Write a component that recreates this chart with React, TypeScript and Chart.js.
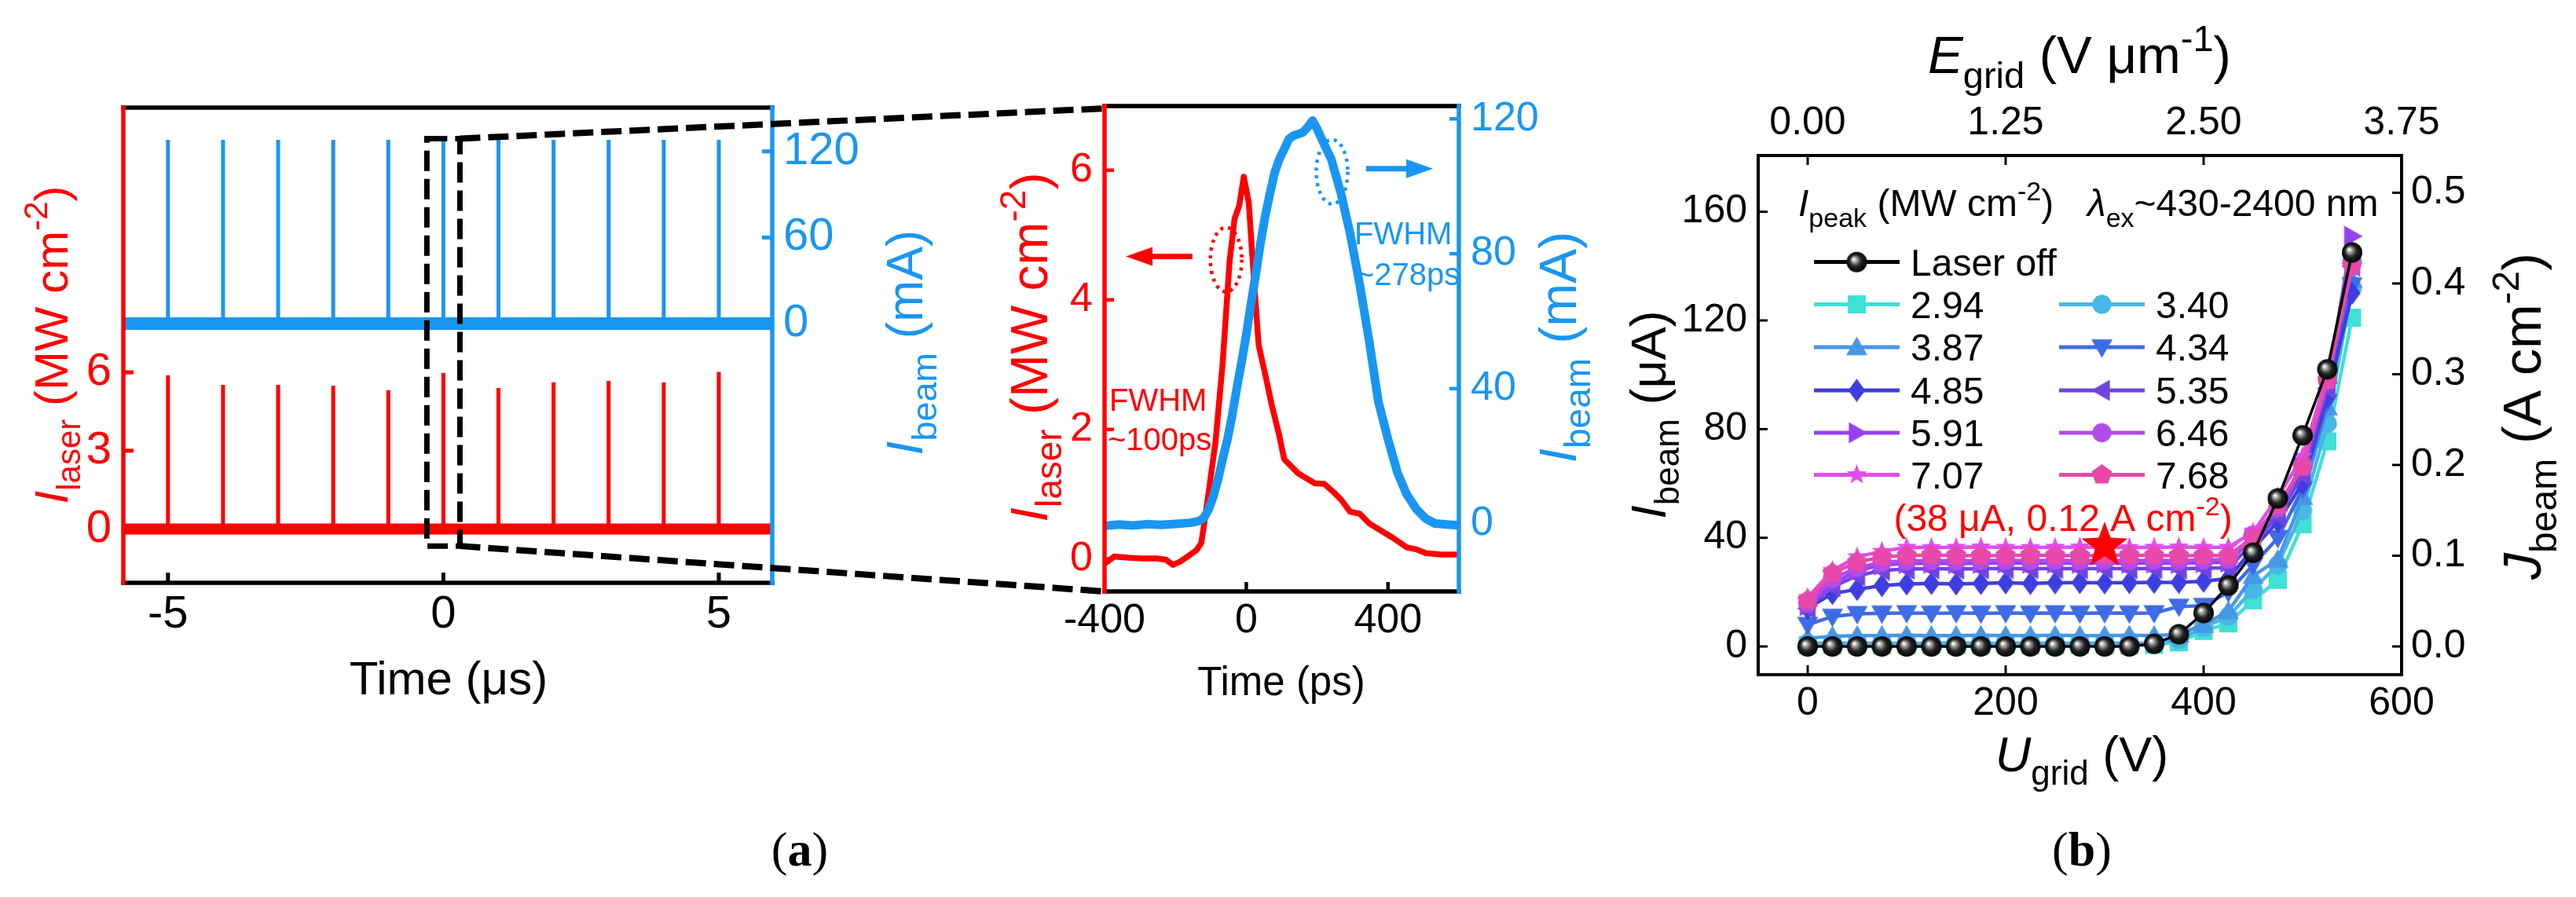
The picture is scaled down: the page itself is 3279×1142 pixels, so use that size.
import React, { useEffect, useRef } from 'react';
import { Chart, registerables } from 'chart.js';

Chart.register(...registerables);

const FONT = '"Liberation Sans", Arial, Helvetica, sans-serif';
const SERIF = '"Liberation Serif", "Times New Roman", serif';
const RED = '#FF0000';
const BLUE = '#1996F2';
const PAGE_W = 3279;
const PAGE_H = 1142;

// ---------------- Panel (a) left: pulse train ----------------
const pulseTimesUs = [-5, -4, -3, -2, -1, 0, 1, 2, 3, 4, 5];
const laserPeaksMW = [5.89, 5.52, 5.52, 5.49, 5.32, 5.98, 5.4, 5.62, 5.67, 5.62, 6.02];
const beamPeaksMA = [128, 128, 128, 128, 128, 128, 128, 128, 128, 128, 128];
const trainWindowUs = [-5.81, 5.97];
const trainLaserRange = [-2.06, 16.14];
const trainBeamRange = [-180.6, 150.5];
const trainTicksUs = [-5, 0, 5];
const trainLaserTicks = [0, 3, 6];
const trainBeamTicks = [0, 60, 120];
const zoomBoxUs = [-0.3, 0.3];
const zoomBoxMW = [-0.65, 14.95];

// ---------------- Panel (a) right: single pulse ----------------
const laserTimePs = [-400, -387, -373, -333, -293, -253, -227, -207, -187, -160, -140, -127, -120, -107, -87, -67, -47, -33, -20, -7, 7, 16, 27, 35, 53, 73, 93, 107, 147, 193, 220, 247, 267, 293, 320, 347, 380, 413, 453, 480, 507, 550, 600];
const laserMW = [-0.07, -0.02, 0.04, 0.02, 0.01, 0.01, -0.01, -0.09, -0.04, 0.06, 0.14, 0.25, 0.5, 1.0, 1.8, 3.0, 4.6, 5.25, 5.45, 5.9, 5.5, 4.77, 3.9, 3.3, 2.86, 2.35, 1.91, 1.54, 1.32, 1.17, 1.16, 1.03, 0.92, 0.73, 0.7, 0.55, 0.44, 0.33, 0.18, 0.15, 0.09, 0.07, 0.07];
const beamTimePs = [-400, -360, -320, -280, -240, -200, -160, -147, -133, -120, -107, -93, -80, -67, -53, -40, -27, -13, 0, 13, 27, 40, 53, 67, 80, 93, 107, 120, 133, 147, 160, 173, 187, 200, 213, 240, 267, 293, 320, 347, 373, 400, 427, 453, 480, 507, 533, 567, 600];
const beamMA = [-0.7, -0.3, -0.6, -0.2, -0.4, -0.1, 0.2, 0.4, 0.8, 1.6, 4, 8, 13, 19, 25, 32, 40, 48, 56, 65, 74, 83, 91, 98, 104, 108, 111, 114, 115, 115.5, 116, 117.5, 119.5, 117, 114, 108, 98, 86, 71, 54, 36, 25, 15, 8.6, 4.3, 1.4, 0, -0.3, -0.5];
const pulseTimeRange = [-400, 600];
const pulseLaserRange = [-0.5, 6.99];
const pulseBeamRange = [-20.15, 123.8];
const pulseTicksPs = [-400, 0, 400];
const pulseLaserTicks = [0, 2, 4, 6];
const pulseBeamTicks = [0, 40, 80, 120];

// ---------------- Panel (b): I-U curves ----------------
const uGridV = [0, 25, 50, 75, 100, 125, 150, 175, 200, 225, 250, 275, 300, 325, 350, 375, 400, 425, 450, 475, 500, 525, 550];
const iLaserOff = [0, 0, 0, 0, 0, 0, 0, 0, 0, 0, 0, 0, 0, 0, 1, 4.5, 12.3, 22.4, 34.5, 54.5, 77.7, 102, 145];
const i294 = [0.5, 0.5, 0.6, 0.5, 0.5, 0.6, 0.5, 0.5, 0.6, 0.5, 0.5, 0.6, 0.5, 0.5, 0.6, 1.5, 5.7, 8.5, 17, 24.5, 45, 75.5, 121];
const i340 = [1.2, 1.3, 1.2, 1.3, 1.2, 1.2, 1.3, 1.2, 1.2, 1.3, 1.2, 1.2, 1.3, 1.2, 1.3, 2.5, 7, 11, 21, 30, 50, 82, 132];
const i387 = [3, 3.8, 4, 4, 4.1, 4, 4, 4.1, 4, 4, 4.1, 4, 4, 4.1, 4, 4.5, 8, 13, 26, 32, 55, 88, 135];
const i434 = [8, 11, 12, 12.2, 12.3, 12.2, 12.3, 12.2, 12.3, 12.2, 12.3, 12.2, 12.3, 12.2, 12.3, 14.7, 15, 20, 30, 40, 58, 90, 133];
const i485 = [14, 19.5, 21, 22.4, 23, 23.2, 23, 23.2, 23.4, 23.2, 23.4, 23.5, 23.4, 23.5, 23.6, 23.6, 24, 25, 36, 46, 60, 92, 130];
const i535 = [14, 22, 26, 28, 28.5, 28.6, 28.5, 28.6, 28.7, 28.6, 28.7, 28.6, 28.7, 28.6, 28.7, 28.6, 28.8, 29, 38, 48, 63, 95, 140];
const i591 = [15, 23, 28, 30, 30.5, 30.6, 30.5, 30.6, 30.7, 30.6, 30.7, 30.6, 30.7, 30.6, 30.7, 30.6, 30.8, 31, 40, 50, 66, 97, 151];
const i646 = [16, 25, 29, 31, 31.5, 31.6, 31.5, 31.6, 31.7, 31.6, 31.7, 31.6, 31.7, 31.6, 31.7, 31.6, 31.8, 32, 41, 51, 67, 98, 142];
const i707 = [18, 28, 33, 35, 36.5, 36.4, 36.5, 36.6, 36.5, 36.4, 36.5, 36.6, 36.5, 36.4, 36.5, 36.6, 36.5, 36.5, 42, 55, 70, 100, 143];
const i768 = [17, 27, 31, 33, 33.5, 33.6, 33.5, 33.4, 33.5, 33.6, 33.5, 33.4, 33.5, 33.6, 33.5, 33.4, 33.5, 33.5, 40, 52, 66, 98, 140];
const seriesLabels = ['Laser off', '2.94', '3.40', '3.87', '4.34', '4.85', '5.35', '5.91', '6.46', '7.07', '7.68'];
const seriesValues = [iLaserOff, i294, i340, i387, i434, i485, i535, i591, i646, i707, i768];
const uGridRange = [-50, 600];
const iBeamRange = [-10.4, 180.7];
const uTicks = [0, 200, 400, 600];
const iTicks = [0, 40, 80, 120, 160];
const jTicks = [0, 0.1, 0.2, 0.3, 0.4, 0.5];
const eTicks = [0, 1.25, 2.5, 3.75];
const uPerE = 160; // V per (V/um)
const iPerJ = 334; // uA per (A/cm2)
const starPoint = [300, 37];
const starLabelAt = [258, 47.4];

// styles (kept apart from data)
const seriesColors = ['#000000', '#40E0D6', '#48B6E6', '#4896E8', '#3E6CE6', '#3E3EE0', '#7044E0', '#9442F0', '#B24CE6', '#E04EEE', '#E848AA'];
const seriesShapes = ['sphere', 'square', 'circle', 'triUp', 'triDown', 'diamond', 'triLeft', 'triRight', 'circle', 'star', 'pentagon'];

// canvas placements on the page
const POS_A = { left: 0, top: 0, w: 1250, h: 1000 };
const POS_B = { left: 1200, top: 0, w: 850, h: 1000 };
const POS_C = { left: 2050, top: 0, w: 1229, h: 1142 };

type Seg = { t: string; it?: boolean; sub?: boolean; sup?: boolean };

function drawRich(ctx: any, segs: Seg[], x: number, y: number, size: number, color: string, rot = 0, align = 'center') {
  ctx.save();
  ctx.translate(x, y);
  if (rot) ctx.rotate(rot);
  ctx.fillStyle = color;
  ctx.textBaseline = 'alphabetic';
  ctx.textAlign = 'left';
  const fontOf = (s: Seg) => `${s.it ? 'italic ' : ''}${s.sub || s.sup ? Math.round(size * 0.7) : size}px ${FONT}`;
  const widths = segs.map((s) => {
    ctx.font = fontOf(s);
    return ctx.measureText(s.t).width;
  });
  const total = widths.reduce((a, b) => a + b, 0);
  let cx = align === 'left' ? 0 : -total / 2;
  const base = size * 0.36;
  segs.forEach((s, i) => {
    ctx.font = fontOf(s);
    const dy = s.sub ? size * 0.28 : s.sup ? -size * 0.42 : 0;
    ctx.fillText(s.t, cx, base + dy);
    cx += widths[i];
  });
  ctx.restore();
}

function makeMarker(shape: string, color: string, r: number) {
  const c = document.createElement('canvas');
  const s = Math.ceil(2 * r + 4);
  c.width = s;
  c.height = s;
  const g = c.getContext('2d') as CanvasRenderingContext2D;
  g.translate(s / 2, s / 2);
  if (shape === 'sphere') {
    const grad = g.createRadialGradient(-r * 0.3, -r * 0.3, r * 0.05, 0, 0, r);
    grad.addColorStop(0, '#ffffff');
    grad.addColorStop(0.22, '#a0a0a0');
    grad.addColorStop(0.55, '#262626');
    grad.addColorStop(1, '#000000');
    g.fillStyle = grad;
    g.beginPath();
    g.arc(0, 0, r, 0, Math.PI * 2);
    g.fill();
    return c;
  }
  const poly = (pts: number[][]) => {
    g.beginPath();
    pts.forEach((p, i) => (i ? g.lineTo(p[0], p[1]) : g.moveTo(p[0], p[1])));
    g.closePath();
  };
  g.fillStyle = color;
  if (shape === 'square') {
    g.beginPath();
    g.rect(-r * 0.85, -r * 0.85, r * 1.7, r * 1.7);
  } else if (shape === 'circle') {
    g.beginPath();
    g.arc(0, 0, r * 0.9, 0, Math.PI * 2);
  } else if (shape === 'triUp') poly([[0, -r], [r, r * 0.75], [-r, r * 0.75]]);
  else if (shape === 'triDown') poly([[0, r], [r, -r * 0.75], [-r, -r * 0.75]]);
  else if (shape === 'triLeft') poly([[-r, 0], [r * 0.75, -r], [r * 0.75, r]]);
  else if (shape === 'triRight') poly([[r, 0], [-r * 0.75, -r], [-r * 0.75, r]]);
  else if (shape === 'diamond') poly([[0, -r * 1.1], [r * 0.8, 0], [0, r * 1.1], [-r * 0.8, 0]]);
  else if (shape === 'star' || shape === 'bigstar') {
    const pts: number[][] = [];
    for (let k = 0; k < 10; k++) {
      const rr = k % 2 === 0 ? r : r * 0.42;
      const a = -Math.PI / 2 + (k * Math.PI) / 5;
      pts.push([rr * Math.cos(a), rr * Math.sin(a)]);
    }
    poly(pts);
  } else if (shape === 'pentagon') {
    const pts: number[][] = [];
    for (let k = 0; k < 5; k++) {
      const a = -Math.PI / 2 + (k * 2 * Math.PI) / 5;
      pts.push([r * Math.cos(a), r * Math.sin(a)]);
    }
    poly(pts);
  }
  g.fill();
  return c;
}

function axis(o: any) {
  return {
    type: 'linear',
    position: o.position,
    min: o.min,
    max: o.max,
    grid: { display: false, drawTicks: false },
    border: { display: false },
    ticks: {
      color: o.color,
      font: { family: FONT, size: o.size },
      padding: o.pad,
      autoSkip: false,
      maxRotation: 0,
      callback: (v: number) => o.fmt(v),
    },
    afterBuildTicks: (s: any) => {
      s.ticks = o.ticks.map((v: number) => ({ value: v }));
    },
    afterFit: (s: any) => {
      if (o.position === 'top' || o.position === 'bottom') s.height = o.fit;
      else s.width = o.fit;
    },
  };
}

function framePlugin(sides: any, lw: number, tickLen: number, tickW: number, tickAxes: any[]) {
  return {
    id: 'frameTicks',
    afterDatasetsDraw(chart: any) {
      const { ctx, chartArea: a } = chart;
      ctx.save();
      ctx.setLineDash([]);
      ctx.lineCap = 'butt';
      for (const t of tickAxes) {
        const sc = chart.scales[t.id];
        ctx.strokeStyle = t.color;
        ctx.lineWidth = tickW;
        for (const tk of sc.ticks) {
          const p = sc.getPixelForValue(tk.value);
          ctx.beginPath();
          if (sc.position === 'left') { ctx.moveTo(a.left, p); ctx.lineTo(a.left + tickLen, p); }
          else if (sc.position === 'right') { ctx.moveTo(a.right, p); ctx.lineTo(a.right - tickLen, p); }
          else if (sc.position === 'bottom') { ctx.moveTo(p, a.bottom); ctx.lineTo(p, a.bottom - tickLen); }
          else { ctx.moveTo(p, a.top); ctx.lineTo(p, a.top + tickLen); }
          ctx.stroke();
        }
      }
      const h = lw / 2;
      ctx.lineWidth = lw;
      ctx.strokeStyle = sides.top;
      ctx.beginPath(); ctx.moveTo(a.left - h, a.top); ctx.lineTo(a.right + h, a.top); ctx.stroke();
      ctx.strokeStyle = sides.bottom;
      ctx.beginPath(); ctx.moveTo(a.left - h, a.bottom); ctx.lineTo(a.right + h, a.bottom); ctx.stroke();
      ctx.strokeStyle = sides.left;
      ctx.beginPath(); ctx.moveTo(a.left, a.top - h); ctx.lineTo(a.left, a.bottom + h); ctx.stroke();
      ctx.strokeStyle = sides.right;
      ctx.beginPath(); ctx.moveTo(a.right, a.top - h); ctx.lineTo(a.right, a.bottom + h); ctx.stroke();
      ctx.restore();
    },
  };
}

const baseOpts = (padTop: number) => ({
  animation: false,
  responsive: false,
  maintainAspectRatio: false,
  events: [],
  devicePixelRatio: 1,
  plugins: { legend: { display: false }, tooltip: { enabled: false } },
  layout: { padding: { top: padTop, left: 0, right: 0, bottom: 0 } },
});

const T_LASER: Seg[] = [{ t: 'I', it: true }, { t: 'laser', sub: true }, { t: ' (MW cm' }, { t: '-2', sup: true }, { t: ')' }];
const T_BEAM_MA: Seg[] = [{ t: 'I', it: true }, { t: 'beam', sub: true }, { t: ' (mA)' }];
const T_BEAM_UA: Seg[] = [{ t: 'I', it: true }, { t: 'beam', sub: true }, { t: ' (\u03bcA)' }];
const T_J: Seg[] = [{ t: 'J', it: true }, { t: 'beam', sub: true }, { t: ' (A cm' }, { t: '-2', sup: true }, { t: ')' }];
const T_E: Seg[] = [{ t: 'E', it: true }, { t: 'grid', sub: true }, { t: ' (V \u03bcm' }, { t: '-1', sup: true }, { t: ')' }];
const T_U: Seg[] = [{ t: 'U', it: true }, { t: 'grid', sub: true }, { t: ' (V)' }];
const T_PEAK: Seg[] = [{ t: 'I', it: true }, { t: 'peak', sub: true }, { t: ' (MW cm' }, { t: '-2', sup: true }, { t: ')' }];
const T_LAMBDA: Seg[] = [{ t: '\u03bb', it: true }, { t: 'ex', sub: true }, { t: '~430-2400 nm' }];
const T_STAR: Seg[] = [{ t: '(38 \u03bcA, 0.12 A cm' }, { t: '-2', sup: true }, { t: ')' }];

export default function App() {
  const aRef = useRef<HTMLCanvasElement>(null);
  const bRef = useRef<HTMLCanvasElement>(null);
  const cRef = useRef<HTMLCanvasElement>(null);
  const ovRef = useRef<HTMLCanvasElement>(null);

  useEffect(() => {
    document.body.style.margin = '0';
    const charts: any[] = [];

    // ---------- Chart A ----------
    const spikes = (peaks: number[]) => pulseTimesUs.flatMap((t, i) => [{ x: t, y: 0 }, { x: t, y: peaks[i] }, { x: t, y: null }]);
    const baseline = [{ x: trainWindowUs[0], y: 0 }, { x: trainWindowUs[1], y: 0 }];
    const chartA = new Chart(aRef.current as any, {
      type: 'line',
      data: {
        datasets: [
          { data: spikes(beamPeaksMA), yAxisID: 'y2', borderColor: BLUE, borderWidth: 5, pointRadius: 0, spanGaps: false },
          { data: baseline, yAxisID: 'y2', borderColor: BLUE, borderWidth: 16, pointRadius: 0 },
          { data: spikes(laserPeaksMW), yAxisID: 'y', borderColor: RED, borderWidth: 5, pointRadius: 0, spanGaps: false },
          { data: baseline, yAxisID: 'y', borderColor: RED, borderWidth: 14, pointRadius: 0 },
        ] as any,
      },
      options: {
        ...baseOpts(137),
        scales: {
          x: axis({ position: 'bottom', min: trainWindowUs[0], max: trainWindowUs[1], ticks: trainTicksUs, color: '#000', size: 58, pad: 6, fit: POS_A.h - 742, fmt: (v: number) => String(v) }),
          y: axis({ position: 'left', min: trainLaserRange[0], max: trainLaserRange[1], ticks: trainLaserTicks, color: RED, size: 58, pad: 15, fit: 157, fmt: (v: number) => String(v) }),
          y2: axis({ position: 'right', min: trainBeamRange[0], max: trainBeamRange[1], ticks: trainBeamTicks, color: BLUE, size: 58, pad: 14, fit: POS_A.w - 983, fmt: (v: number) => String(v) }),
        },
      } as any,
      plugins: [
        framePlugin({ top: '#000', bottom: '#000', left: RED, right: BLUE }, 5.5, 13, 5, [
          { id: 'x', color: '#000' }, { id: 'y', color: RED }, { id: 'y2', color: BLUE },
        ]),
        {
          id: 'titlesA',
          afterDraw(chart: any) {
            const ctx = chart.ctx;
            drawRich(ctx, T_LASER, 64, 439, 60, RED, -Math.PI / 2);
            drawRich(ctx, T_BEAM_MA, 1151, 436, 64, BLUE, -Math.PI / 2);
            drawRich(ctx, [{ t: 'Time (\u03bcs)' }], 571, 862, 60, '#000');
          },
        },
      ],
    });
    charts.push(chartA);

    // ---------- Chart B ----------
    const chartB = new Chart(bRef.current as any, {
      type: 'line',
      data: {
        datasets: [
          { data: beamTimePs.map((t, i) => ({ x: t, y: beamMA[i] })), yAxisID: 'y2', borderColor: BLUE, borderWidth: 11, pointRadius: 0, borderJoinStyle: 'round' },
          { data: laserTimePs.map((t, i) => ({ x: t, y: laserMW[i] })), yAxisID: 'y', borderColor: RED, borderWidth: 7.5, pointRadius: 0, borderJoinStyle: 'round' },
        ] as any,
      },
      options: {
        ...baseOpts(135),
        scales: {
          x: axis({ position: 'bottom', min: pulseTimeRange[0], max: pulseTimeRange[1], ticks: pulseTicksPs, color: '#000', size: 52, pad: 6, fit: POS_B.h - 753, fmt: (v: number) => String(v) }),
          y: axis({ position: 'left', min: pulseLaserRange[0], max: pulseLaserRange[1], ticks: pulseLaserTicks, color: RED, size: 52, pad: 15, fit: 206, fmt: (v: number) => String(v) }),
          y2: axis({ position: 'right', min: pulseBeamRange[0], max: pulseBeamRange[1], ticks: pulseBeamTicks, color: BLUE, size: 52, pad: 15, fit: POS_B.w - 657, fmt: (v: number) => String(v) }),
        },
      } as any,
      plugins: [
        framePlugin({ top: '#000', bottom: '#000', left: RED, right: BLUE }, 5.5, 12, 4.5, [
          { id: 'x', color: '#000' }, { id: 'y', color: RED }, { id: 'y2', color: BLUE },
        ]),
        {
          id: 'annotB',
          afterDraw(chart: any) {
            const ctx = chart.ctx;
            const sx = chart.scales.x, sy = chart.scales.y, sy2 = chart.scales.y2;
            drawRich(ctx, T_LASER, 109, 442, 66, RED, -Math.PI / 2);
            drawRich(ctx, T_BEAM_MA, 782, 442, 66, BLUE, -Math.PI / 2);
            drawRich(ctx, [{ t: 'Time (ps)' }], 431, 867, 51, '#000');
            drawRich(ctx, [{ t: 'FWHM' }], 212, 509, 40, RED, 0, 'left');
            drawRich(ctx, [{ t: '~100ps' }], 210, 559, 40, RED, 0, 'left');
            drawRich(ctx, [{ t: 'FWHM' }], 524, 297, 40, BLUE, 0, 'left');
            drawRich(ctx, [{ t: '~278ps' }], 526, 349, 40, BLUE, 0, 'left');
            // dotted ellipses
            ctx.save();
            ctx.lineWidth = 4.5;
            ctx.setLineDash([4, 6]);
            ctx.strokeStyle = RED;
            ctx.beginPath();
            ctx.ellipse(sx.getPixelForValue(-57), sy.getPixelForValue(4.62), 20, 41, 0, 0, Math.PI * 2);
            ctx.stroke();
            ctx.strokeStyle = BLUE;
            ctx.beginPath();
            ctx.ellipse(sx.getPixelForValue(242), sy2.getPixelForValue(104.3), 20, 41, 0, 0, Math.PI * 2);
            ctx.stroke();
            ctx.setLineDash([]);
            const arrow = (x0: number, x1: number, y: number, color: string) => {
              const dir = Math.sign(x1 - x0);
              ctx.strokeStyle = color;
              ctx.fillStyle = color;
              ctx.lineWidth = 7;
              ctx.beginPath();
              ctx.moveTo(x0, y);
              ctx.lineTo(x1 - dir * 30, y);
              ctx.stroke();
              ctx.beginPath();
              ctx.moveTo(x1, y);
              ctx.lineTo(x1 - dir * 34, y - 12);
              ctx.lineTo(x1 - dir * 34, y + 12);
              ctx.closePath();
              ctx.fill();
            };
            arrow(sx.getPixelForValue(-152), sx.getPixelForValue(-340), sy.getPixelForValue(4.67), RED);
            arrow(sx.getPixelForValue(338), sx.getPixelForValue(527), sy2.getPixelForValue(105.2), BLUE);
            ctx.restore();
          },
        },
      ],
    });
    charts.push(chartB);

    // ---------- Chart C ----------
    const markers = seriesShapes.map((s, i) => makeMarker(s, seriesColors[i], s === 'sphere' ? 13 : 13.5));
    const starMarker = makeMarker('bigstar', RED, 31);
    const seriesDs = seriesValues.map((vals, i) => ({
      label: seriesLabels[i],
      data: uGridV.map((u, j) => ({ x: u, y: vals[j] })),
      borderColor: seriesColors[i],
      backgroundColor: seriesColors[i],
      borderWidth: i === 0 ? 3.5 : 4.5,
      pointStyle: markers[i],
      pointRadius: 13,
      xAxisID: 'x',
      yAxisID: 'y',
    }));
    const orderedDs = [seriesDs[0], ...seriesDs.slice(1).reverse()];
    const chartC = new Chart(cRef.current as any, {
      type: 'line',
      data: {
        datasets: [
          { label: 'star', data: [{ x: starPoint[0], y: starPoint[1] }], pointStyle: starMarker, pointRadius: 30, showLine: false, xAxisID: 'x', yAxisID: 'y' },
          ...orderedDs,
        ] as any,
      },
      options: {
        ...baseOpts(0),
        scales: {
          x: axis({ position: 'bottom', min: uGridRange[0], max: uGridRange[1], ticks: uTicks, color: '#000', size: 50, pad: 7, fit: POS_C.h - 859, fmt: (v: number) => String(v) }),
          x2: axis({ position: 'top', min: uGridRange[0] / uPerE, max: uGridRange[1] / uPerE, ticks: eTicks, color: '#000', size: 50, pad: 11, fit: 198, fmt: (v: number) => v.toFixed(2) }),
          y: axis({ position: 'left', min: iBeamRange[0], max: iBeamRange[1], ticks: iTicks, color: '#000', size: 50, pad: 14, fit: 188, fmt: (v: number) => String(v) }),
          y2: axis({ position: 'right', min: iBeamRange[0] / iPerJ, max: iBeamRange[1] / iPerJ, ticks: jTicks, color: '#000', size: 50, pad: 12, fit: POS_C.w - 1007, fmt: (v: number) => v.toFixed(1) }),
        },
      } as any,
      plugins: [
        framePlugin({ top: '#000', bottom: '#000', left: '#000', right: '#000' }, 4, 12, 3, [
          { id: 'x', color: '#000' }, { id: 'x2', color: '#000' }, { id: 'y', color: '#000' }, { id: 'y2', color: '#000' },
        ]),
        {
          id: 'legendC',
          afterDraw(chart: any) {
            const ctx = chart.ctx;
            const sx = chart.scales.x, sy = chart.scales.y;
            drawRich(ctx, T_E, 597, 69, 67, '#000');
            drawRich(ctx, T_U, 600, 959, 63, '#000');
            drawRich(ctx, T_BEAM_UA, 47, 528, 63, '#000', -Math.PI / 2);
            drawRich(ctx, T_J, 1160, 530, 68, '#000', -Math.PI / 2);
            drawRich(ctx, T_PEAK, 239, 258, 48, '#000', 0, 'left');
            drawRich(ctx, T_LAMBDA, 607, 258, 48, '#000', 0, 'left');
            drawRich(ctx, T_STAR, sx.getPixelForValue(starLabelAt[0]), sy.getPixelForValue(starLabelAt[1]), 48, RED);
            const rowsY = [333.6, 387.5, 442, 497, 551, 604.5];
            const cols = [{ l0: 259, l1: 368, tx: 382 }, { l0: 571, l1: 680, tx: 694 }];
            seriesLabels.forEach((lab, i) => {
              const row = i === 0 ? 0 : Math.ceil(i / 2);
              const col = i === 0 ? 0 : (i - 1) % 2;
              const y = rowsY[row];
              const c = cols[col];
              ctx.save();
              ctx.strokeStyle = seriesColors[i];
              ctx.lineWidth = 5;
              ctx.beginPath();
              ctx.moveTo(c.l0, y);
              ctx.lineTo(c.l1, y);
              ctx.stroke();
              const m = markers[i];
              ctx.drawImage(m, (c.l0 + c.l1) / 2 - m.width / 2, y - m.height / 2);
              ctx.restore();
              drawRich(ctx, [{ t: lab }], c.tx, y, 48, '#000', 0, 'left');
            });
          },
        },
      ],
    });
    charts.push(chartC);

    // ---------- overlay: zoom box and connectors ----------
    const ov = ovRef.current as HTMLCanvasElement;
    const g = ov.getContext('2d') as CanvasRenderingContext2D;
    g.clearRect(0, 0, PAGE_W, PAGE_H);
    const ax = chartA.scales.x as any, ay = chartA.scales.y as any;
    const bx0 = POS_A.left + ax.getPixelForValue(zoomBoxUs[0]);
    const bx1 = POS_A.left + ax.getPixelForValue(zoomBoxUs[1]);
    const by0 = POS_A.top + ay.getPixelForValue(zoomBoxMW[1]);
    const by1 = POS_A.top + ay.getPixelForValue(zoomBoxMW[0]);
    const caB = chartB.chartArea;
    g.strokeStyle = '#000';
    g.setLineDash([26, 10]);
    g.lineWidth = 7;
    g.strokeRect(bx0, by0, bx1 - bx0, by1 - by0);
    g.lineWidth = 8;
    g.beginPath();
    g.moveTo(bx1, by0);
    g.lineTo(POS_B.left + caB.left, POS_B.top + caB.top + 3);
    g.stroke();
    g.beginPath();
    g.moveTo(bx1, by1);
    g.lineTo(POS_B.left + caB.left, POS_B.top + caB.bottom);
    g.stroke();

    return () => {
      charts.forEach((c) => c.destroy());
    };
  }, []);

  const cs = (p: any) => ({ position: 'absolute' as const, left: p.left, top: p.top, width: p.w, height: p.h });
  const lab = (x: number) => ({
    position: 'absolute' as const,
    left: x,
    top: 1081,
    transform: 'translate(-50%, -50%)',
    font: `62px ${SERIF}`,
    lineHeight: 1,
    whiteSpace: 'nowrap' as const,
    color: '#000',
  });

  return (
    <div style={{ position: 'relative', width: PAGE_W, height: PAGE_H, background: '#fff', overflow: 'hidden' }}>
      <canvas ref={aRef} width={POS_A.w} height={POS_A.h} style={cs(POS_A)} />
      <canvas ref={bRef} width={POS_B.w} height={POS_B.h} style={cs(POS_B)} />
      <canvas ref={cRef} width={POS_C.w} height={POS_C.h} style={cs(POS_C)} />
      <canvas ref={ovRef} width={PAGE_W} height={PAGE_H} style={{ position: 'absolute', left: 0, top: 0, width: PAGE_W, height: PAGE_H, pointerEvents: 'none' }} />
      <div style={lab(1018)}>(<b>a</b>)</div>
      <div style={lab(2650)}>(<b>b</b>)</div>
    </div>
  );
}
